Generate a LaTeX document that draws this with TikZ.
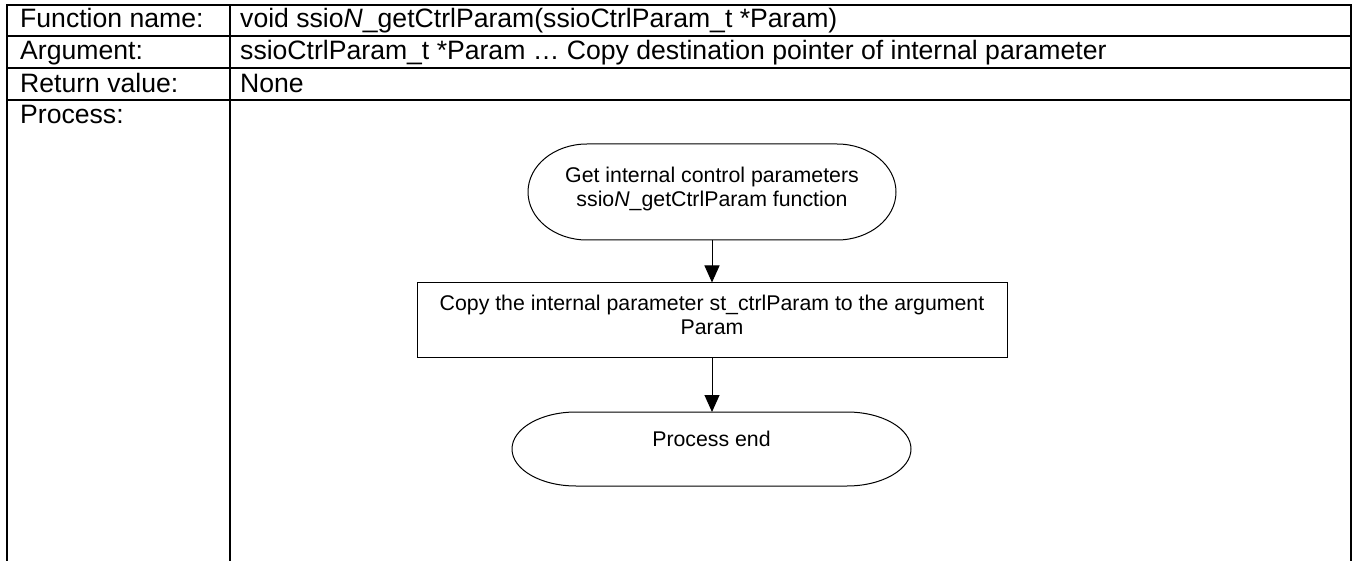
\documentclass[tikz,border=0pt]{standalone}
\usepackage{fontspec}
\setmainfont{Liberation Sans}
\usetikzlibrary{arrows.meta}
\begin{document}
\begin{tikzpicture}[x=1pt,y=-1pt,
  grid/.style={line width=1.3pt},
  cell/.style={anchor=base west, inner sep=0pt, font=\fontsize{26.6}{32}\selectfont},
  flow/.style={line width=1pt},
  flowtext/.style={inner sep=0pt, align=center, font=\fontsize{21.3}{24}\selectfont},
  holder/.style={inner sep=0pt, outer sep=0pt},
  arrowline/.style={flow, -{Triangle[length=17pt,width=15pt]}},
]
\useasboundingbox (0,0) rectangle (1354,561);

% table frame
\draw[grid] (7,561) -- (7,5) -- (1351,5) -- (1351,561);
\draw[grid] (7,36) -- (1351,36);
\draw[grid] (7,68) -- (1351,68);
\draw[grid] (7,100) -- (1351,100);
\draw[grid] (230,5) -- (230,561);

% table text
\node[cell] (lblname) at (20,28) {Function name:};
\node[cell] (valname) at (240,28) {void ssio\textit{N}\_getCtrlParam(ssioCtrlParam\_t *Param)};
\node[cell] (lblarg) at (20,60) {Argument:};
\node[cell] (valarg) at (240,60) {ssioCtrlParam\_t *Param … Copy destination pointer of internal parameter};
\node[cell] (lblret) at (20,93) {Return value:};
\node[cell] (valret) at (240,93) {None};
\node[cell] (lblproc) at (20,124) {Process:};

% flowchart: start terminator
\node[holder, minimum width=368pt, minimum height=96pt] (start) at (712,192) {};
\draw[flow] ([xshift=59pt]start.north west) -- ([xshift=-59pt]start.north east)
  arc[start angle=90, end angle=-90, x radius=59pt, y radius=48pt]
  -- ([xshift=59pt]start.south west)
  arc[start angle=270, end angle=90, x radius=59pt, y radius=48pt] -- cycle;
\node[flowtext] (starttext) at (712,188.5) {Get internal control parameters\\ssio\textit{N}\_getCtrlParam function};

% process box
\node[draw, flow, minimum width=590pt, minimum height=74pt, inner sep=0pt] (copy) at (712,320) {};
\node[flowtext] (copytext) at (712,314.5) {Copy the internal parameter st\_ctrlParam to the argument\\Param};

% end terminator
\node[holder, minimum width=399pt, minimum height=74pt] (stop) at (711.5,449) {};
\draw[flow] ([xshift=64pt]stop.north west) -- ([xshift=-64pt]stop.north east)
  arc[start angle=90, end angle=-90, x radius=64pt, y radius=37pt]
  -- ([xshift=64pt]stop.south west)
  arc[start angle=270, end angle=90, x radius=64pt, y radius=37pt] -- cycle;
\node[flowtext, anchor=base] (stoptext) at (711.5,446) {Process end};

% connectors
\draw[arrowline] (start.south) -- (copy.north);
\draw[arrowline] (copy.south) -- (copy.south |- stop.north);
\end{tikzpicture}
\end{document}
